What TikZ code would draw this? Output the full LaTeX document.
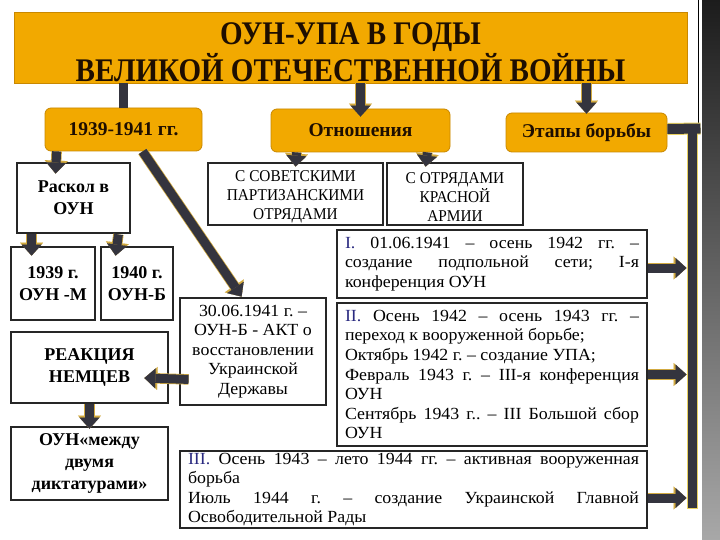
\documentclass[tikz,border=0pt]{standalone}
\usepackage{fontspec}
\setmainfont{Liberation Serif}
\newfontfamily\bodyf[FakeStretch=1.05]{Liberation Serif}
\newfontfamily\capf[FakeStretch=0.93]{Liberation Serif}
\newfontfamily\boldf{Liberation Serif}
\newfontfamily\titlef[FakeStretch=0.88]{Liberation Serif}
\usetikzlibrary{arrows.meta}
\tolerance=10000
\hyphenpenalty=10000
\frenchspacing
\definecolor{orng}{HTML}{F2A900}
\definecolor{orngd}{HTML}{C98800}
\definecolor{arrc}{HTML}{34343E}
\definecolor{glow}{HTML}{D2AA40}
\definecolor{yline}{HTML}{E8D060}
\definecolor{bord}{HTML}{262626}
\definecolor{numc}{HTML}{2A2A80}
\definecolor{otxt}{HTML}{1E0E00}
\definecolor{stripa}{HTML}{1C1C1C}
\definecolor{stripb}{HTML}{2E2E2E}
\definecolor{stripc}{HTML}{A8A8A8}
\newcommand{\topstrut}{\rule{0pt}{17pt}}
\tikzset{
  obox/.style={draw=orngd, line width=0.8pt, fill=orng, rounded corners=6pt, inner sep=0pt,
    text=otxt, font=\boldf\bfseries\fontsize{19.5}{22}\selectfont},
  kbox/.style={draw=bord, line width=2.8pt, fill=white, inner sep=0pt, align=center},
  bfbox/.style={kbox, font=\boldf\bfseries\fontsize{18}{22}\selectfont},
  capbox/.style={kbox, font=\capf\fontsize{16.5}{19}\selectfont},
  lcbox/.style={kbox, font=\bodyf\fontsize{17}{19.5}\selectfont},
  stagebox/.style={kbox, align=justify, font=\bodyf\fontsize{17}{19.6}\selectfont},
  arr/.style={draw=arrc, line width=9pt,
    -{Triangle[width=20pt,length=11pt,line width=0.1pt]},
    preaction={draw=glow, line width=10.5pt, -{Triangle[width=23pt,length=13pt,line width=0.1pt]}}},
  barline/.style={draw=arrc, line width=9pt},
}
\begin{document}
\begin{tikzpicture}[x=1pt,y=-1pt]
\useasboundingbox (0,0) rectangle (720,540);
\fill[white] (0,0) rectangle (720,540);
% right strip
\shade[top color=stripa, middle color=stripb, bottom color=stripc] (702,0) rectangle (720,540);
\draw[black, line width=1pt] (698,0) -- (698,124);

% title
\node[draw=orngd, line width=0.8pt, fill=orng, inner sep=0pt, minimum width=673pt, minimum height=71pt]
  (title) at (350.5,47.5) {};
\node[align=center, text=otxt, inner sep=0pt, font=\titlef\bfseries\fontsize{33}{37}\selectfont]
  (titletext) at ([yshift=-4.5pt]title.center) {ОУН-УПА В ГОДЫ\\ВЕЛИКОЙ ОТЕЧЕСТВЕННОЙ ВОЙНЫ};

% orange boxes
\node[obox, minimum width=157pt, minimum height=43pt] (y1941) at (123.5,129.5) {1939-1941 гг.};
\node[obox, minimum width=179pt, minimum height=43pt] (otn) at (360.5,130.5) {Отношения};
\node[obox, minimum width=161pt, minimum height=39pt] (etapy) at (586.5,132.5) {Этапы борьбы};

% black bordered boxes
\node[bfbox, minimum width=113pt, minimum height=70pt] (raskol) at (73.5,198) {Раскол в\\ОУН};
\node[bfbox, minimum width=84pt, minimum height=73pt] (m1939) at (53,283.5) {1939 г.\\ОУН -М};
\node[bfbox, minimum width=72pt, minimum height=73pt] (b1940) at (137,283.5) {1940 г.\\ОУН-Б};
\node[capbox, minimum width=175pt, minimum height=62pt] (sov) at (295.5,194) {\topstrut С СОВЕТСКИМИ\\ПАРТИЗАНСКИМИ\\ОТРЯДАМИ};
\node[capbox, minimum width=136pt, minimum height=62pt] (krasn) at (455,194) {\topstrut С ОТРЯДАМИ\\КРАСНОЙ\\АРМИИ};
\node[lcbox, minimum width=146pt, minimum height=107pt] (act) at (253,351.5)
  {30.06.1941 г. –\\ОУН-Б - АКТ о\\восстановлении\\Украинской\\Державы};
\node[bfbox, minimum width=157pt, minimum height=71pt] (reak) at (89.5,367.5) {РЕАКЦИЯ\\НЕМЦЕВ};
\node[bfbox, minimum width=157pt, minimum height=73pt] (mezhdu) at (89.5,463.5) {ОУН«между\\двумя\\диктатурами»};

% stage boxes
\node[stagebox, minimum width=310pt, minimum height=68pt, text width=294pt] (stage1) at (492,264)
  {\textcolor{numc}{I.} 01.06.1941 – осень 1942 гг. –\linebreak создание подпольной сети; I-я\linebreak конференция ОУН};
\node[stagebox, minimum width=310pt, minimum height=143pt, text width=294pt] (stage2) at (492,374.5)
  {\textcolor{numc}{II.} Осень 1942 – осень 1943 гг. –\linebreak переход к вооруженной борьбе;\par
   Октябрь 1942 г. – создание УПА;\par
   Февраль 1943 г. – III-я конференция\linebreak ОУН\par
   Сентябрь 1943 г.. – III Большой сбор\linebreak ОУН};
\node[stagebox, minimum width=467pt, minimum height=77pt, text width=451pt] (stage3) at (413.5,489.5)
  {\textcolor{numc}{III.} Осень 1943 – лето 1944 гг. – активная вооруженная\linebreak борьба\par
   Июль 1944 г. – создание Украинской Главной\linebreak Освободительной Рады};

% right vertical bar
\node[fill=arrc, draw=yline, line width=1pt, inner sep=0pt, minimum width=10pt, minimum height=384pt]
  (bar) at (692,316) {};
\draw[barline, line width=10pt, preaction={draw=yline, line width=12pt}]
  ([yshift=3.5pt]etapy.east) -- ([xshift=3pt,yshift=-5pt]bar.north east);
\fill[arrc] ([xshift=1pt,yshift=-1pt]bar.north west) rectangle ([xshift=-1pt,yshift=-12pt]bar.north east);

% connectors
\draw[barline] (y1941.north |- title.south) -- (y1941.north);
\draw[arr] (otn.north |- title.south) -- ([yshift=-8pt]otn.north);
\draw[arr] (etapy.north |- title.south) -- ([yshift=-1pt]etapy.north);
\draw[arr] ([xshift=12pt]y1941.south west) -- ([xshift=40pt,yshift=-12pt]raskol.north west);
\draw[arr] ([xshift=98pt]y1941.south west) -- ([xshift=63pt]act.north west);
\draw[arr] ([xshift=26pt]otn.south west) -- ([xshift=89pt,yshift=-5pt]sov.north west);
\draw[arr] ([xshift=-23pt]otn.south east) -- ([xshift=40pt,yshift=-5pt]krasn.north west);
\draw[arr] ([xshift=16pt]raskol.south west) -- ([xshift=22pt,yshift=-10pt]m1939.north west);
\draw[arr] ([xshift=-13pt]raskol.south east) -- ([xshift=16pt,yshift=-10pt]b1940.north west);
\draw[arr] ([xshift=10pt,yshift=27pt]act.south west) -- ([xshift=-25pt,yshift=-10.5pt]reak.east);
\draw[arr] (reak.south) -- ([yshift=-3pt]mezhdu.north);
\draw[arr] ([yshift=-4pt]stage1.east) -- ([yshift=-4pt]stage1.east -| bar.west);
\draw[arr] (stage2.east) -- (stage2.east -| bar.west);
\draw[arr] ([yshift=-8.5pt]stage3.east) -- ([yshift=-8.5pt]stage3.east -| bar.west);
\end{tikzpicture}
\end{document}
